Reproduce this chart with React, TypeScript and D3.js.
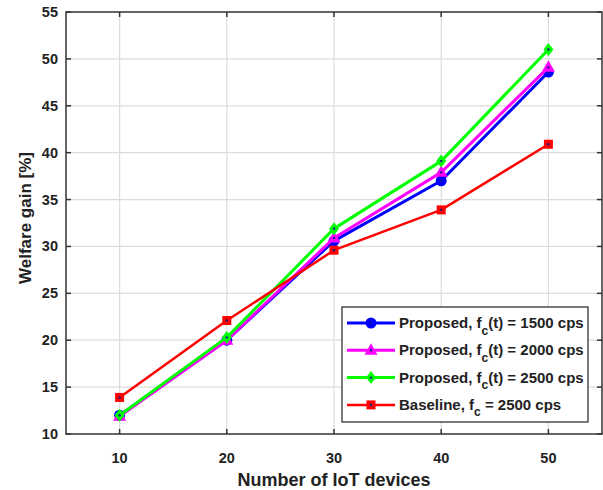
import React from "react";
import * as d3 from "d3";

const devices = [10, 20, 30, 40, 50];
const fc1500 = [12, 20, 30.6, 37, 48.6];
const fc2000 = [11.9, 20, 30.9, 37.9, 49.1];
const fc2500 = [12, 20.3, 31.9, 39.1, 51];
const baseline = [13.9, 22.1, 29.6, 33.9, 40.9];
const yTicks = [10, 15, 20, 25, 30, 35, 40, 45, 50, 55];
const xTicks = [10, 20, 30, 40, 50];

const series = [
  { name: "Proposed, f", sub: "c", rest: "(t) = 1500 cps", values: fc1500, color: "#0000ff", marker: "circle", lw: 3 },
  { name: "Proposed, f", sub: "c", rest: "(t) = 2000 cps", values: fc2000, color: "#ff00ff", marker: "triangle", lw: 3 },
  { name: "Proposed, f", sub: "c", rest: "(t) = 2500 cps", values: fc2500, color: "#00ff00", marker: "diamond", lw: 3 },
  { name: "Baseline, f", sub: "c", rest: " = 2500 cps", values: baseline, color: "#ff0000", marker: "square", lw: 2.5 },
];

const W = 603;
const H = 490;
const left = 66;
const right = 602;
const top = 12;
const bottom = 434;
const font = "'Liberation Sans', Arial, sans-serif";

function Marker({ type, x, y, color }: { type: string; x: number; y: number; color: string }) {
  let shape;
  if (type === "circle") shape = <circle cx={x} cy={y} r={5.5} fill={color} />;
  else if (type === "triangle")
    shape = <path d={`M${x},${y - 7}L${x + 6.5},${y + 4.5}L${x - 6.5},${y + 4.5}Z`} fill={color} />;
  else if (type === "diamond")
    shape = <path d={`M${x},${y - 6.5}L${x + 5},${y}L${x},${y + 6.5}L${x - 5},${y}Z`} fill={color} />;
  else shape = <rect x={x - 4.5} y={y - 4.5} width={9} height={9} fill={color} />;
  return (
    <g>
      {shape}
      <circle cx={x} cy={y} r={1.2} fill="#1a1a8c" />
    </g>
  );
}

export default function App() {
  const x = d3.scaleLinear().domain([5, 55]).range([left, right]);
  const y = d3.scaleLinear().domain([10, 55]).range([bottom, top]);
  const line = d3
    .line<number>()
    .x((_, i) => x(devices[i]))
    .y((d) => y(d));

  const legX = 342;
  const legY = 307;
  const legW = 246;
  const legH = 115;
  const rowH = 27.3;

  return (
    <svg
      width={W}
      height={H}
      style={{ position: "absolute", left: 0, top: 0, background: "#fff" }}
      fontFamily={font}
    >
      {/* grid */}
      {xTicks.map((t) => (
        <line key={"gx" + t} x1={x(t)} x2={x(t)} y1={top} y2={bottom} stroke="#dcdcdc" strokeWidth={1.2} />
      ))}
      {yTicks.slice(1, -1).map((t) => (
        <line key={"gy" + t} x1={left} x2={right} y1={y(t)} y2={y(t)} stroke="#dcdcdc" strokeWidth={1.2} />
      ))}

      {/* box + ticks */}
      <rect x={left} y={top} width={right - left} height={bottom - top} fill="none" stroke="#333" strokeWidth={1.5} />
      {xTicks.map((t) => (
        <g key={"tx" + t}>
          <line x1={x(t)} x2={x(t)} y1={bottom} y2={bottom - 5} stroke="#333" strokeWidth={1.5} />
          <line x1={x(t)} x2={x(t)} y1={top} y2={top + 5} stroke="#333" strokeWidth={1.5} />
          <text x={x(t)} y={bottom + 28.5} textAnchor="middle" fontSize={14.5} fontWeight="bold" fill="#222">
            {t}
          </text>
        </g>
      ))}
      {yTicks.map((t) => (
        <g key={"ty" + t}>
          <line x1={left} x2={left + 5} y1={y(t)} y2={y(t)} stroke="#333" strokeWidth={1.5} />
          <line x1={right} x2={right - 5} y1={y(t)} y2={y(t)} stroke="#333" strokeWidth={1.5} />
          <text x={58} y={y(t) + 5} textAnchor="end" fontSize={14.5} fontWeight="bold" fill="#222">
            {t}
          </text>
        </g>
      ))}

      {/* series */}
      {series.map((s) => (
        <g key={s.rest + s.color}>
          <path d={line(s.values) || ""} fill="none" stroke={s.color} strokeWidth={s.lw} strokeLinejoin="round" />
          {s.values.map((v, i) => (
            <Marker key={i} type={s.marker} x={x(devices[i])} y={y(v)} color={s.color} />
          ))}
        </g>
      ))}

      {/* axis labels */}
      <text x={334} y={486} textAnchor="middle" fontSize={18} fontWeight="bold" fill="#222">
        Number of IoT devices
      </text>
      <text
        transform={`translate(31,218) rotate(-90)`}
        textAnchor="middle"
        fontSize={17}
        fontWeight="bold"
        fill="#222"
      >
        Welfare gain [%]
      </text>

      {/* legend */}
      <rect x={legX} y={legY} width={legW} height={legH} fill="#fff" stroke="#222" strokeWidth={1.2} />
      {series.map((s, i) => {
        const cy = legY + 16 + i * rowH;
        return (
          <g key={"leg" + i}>
            <line x1={legX + 5} x2={legX + 53} y1={cy} y2={cy} stroke={s.color} strokeWidth={s.lw} />
            <Marker type={s.marker} x={legX + 29} y={cy} color={s.color} />
            <text x={legX + 57} y={cy + 5} fontSize={15} fontWeight="bold" fill="#222">
              {s.name}
              <tspan dy={6.5} fontSize={12}>
                {s.sub}
              </tspan>
              <tspan dy={-6.5}>{s.rest}</tspan>
            </text>
          </g>
        );
      })}
    </svg>
  );
}
